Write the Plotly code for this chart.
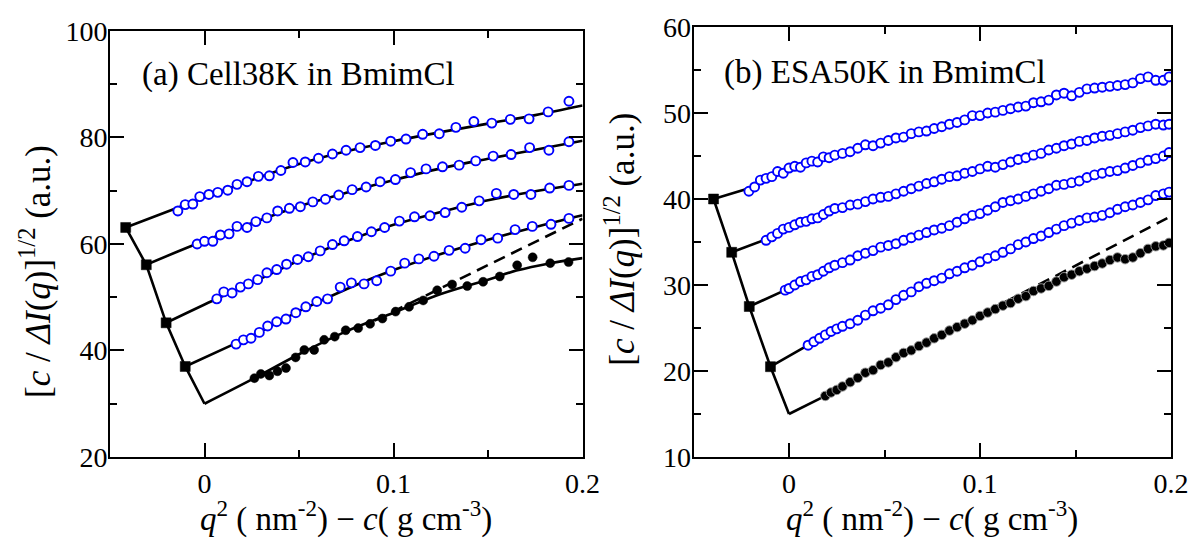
import plotly.graph_objects as go

# ---------------- Panel (a): Cell38K in BmimCl ----------------
a_s1_x = [-0.0141, -0.0102, -0.0062, -0.0025, 0.0023, 0.0070, 0.0123, 0.0172, 0.0225, 0.0285, 0.0343, 0.0404, 0.0468, 0.0533, 0.0603, 0.0677, 0.0749, 0.0823, 0.0904, 0.0985, 0.1066, 0.1154, 0.1242, 0.1330, 0.1425, 0.1520, 0.1618, 0.1717, 0.1818, 0.1928]
a_s1_y = [66.2, 67.4, 67.5, 68.9, 69.3, 69.7, 70.1, 71.2, 71.7, 72.7, 72.8, 73.8, 75.3, 75.4, 76.1, 76.9, 77.6, 78.1, 78.5, 79.3, 79.7, 80.6, 80.7, 81.9, 83.0, 82.7, 83.4, 83.5, 84.8, 86.8]

a_s2_x = [-0.0039, 0.0000, 0.0044, 0.0084, 0.0130, 0.0172, 0.0225, 0.0272, 0.0330, 0.0387, 0.0449, 0.0507, 0.0573, 0.0640, 0.0710, 0.0781, 0.0855, 0.0929, 0.1010, 0.1090, 0.1172, 0.1259, 0.1347, 0.1435, 0.1527, 0.1622, 0.1720, 0.1822, 0.1928]
a_s2_y = [60.0, 60.5, 60.5, 61.7, 61.9, 63.3, 63.1, 64.2, 64.9, 66.2, 66.7, 67.0, 67.9, 68.4, 69.2, 70.2, 70.7, 71.7, 72.1, 73.4, 74.1, 74.5, 74.8, 75.6, 76.5, 76.8, 78.1, 77.6, 79.2]

a_s3_x = [0.0065, 0.0102, 0.0146, 0.0190, 0.0232, 0.0281, 0.0330, 0.0382, 0.0434, 0.0492, 0.0549, 0.0612, 0.0677, 0.0739, 0.0809, 0.0883, 0.0953, 0.1031, 0.1111, 0.1193, 0.1273, 0.1361, 0.1453, 0.1544, 0.1636, 0.1727, 0.1826, 0.1928]
a_s3_y = [49.7, 51.0, 50.8, 51.9, 52.5, 53.3, 54.6, 55.2, 56.2, 57.1, 57.6, 58.7, 59.9, 60.6, 61.4, 62.3, 63.1, 64.3, 65.1, 65.3, 65.9, 66.9, 68.1, 69.5, 69.3, 69.3, 70.5, 71.0]

a_s4_x = [0.0167, 0.0206, 0.0246, 0.0290, 0.0334, 0.0382, 0.0431, 0.0483, 0.0536, 0.0594, 0.0651, 0.0718, 0.0777, 0.0844, 0.0911, 0.0985, 0.1059, 0.1134, 0.1214, 0.1294, 0.1379, 0.1463, 0.1551, 0.1643, 0.1734, 0.1833, 0.1928]
a_s4_y = [41.2, 42.0, 42.3, 43.4, 44.6, 45.4, 45.9, 47.1, 48.2, 49.2, 49.7, 51.9, 52.7, 52.5, 53.1, 54.9, 56.4, 57.2, 57.7, 58.8, 59.2, 60.8, 61.1, 62.7, 63.3, 63.7, 64.8]

a_s0_x = [0.0264, 0.0298, 0.0343, 0.0386, 0.0431, 0.0482, 0.0528, 0.0580, 0.0633, 0.0689, 0.0747, 0.0813, 0.0876, 0.0941, 0.1011, 0.1082, 0.1157, 0.1231, 0.1310, 0.1390, 0.1474, 0.1562, 0.1654, 0.1736, 0.1829, 0.1926]
a_s0_y = [34.8, 35.6, 35.3, 36.1, 36.7, 38.7, 40.1, 40.1, 42.0, 42.6, 43.8, 44.2, 45.0, 46.0, 47.3, 48.2, 49.4, 51.3, 52.4, 52.1, 52.9, 53.9, 56.0, 57.5, 56.4, 56.6]

# fitted curves
a_fit1_x = [-0.0417, -0.015, 0.0, 0.025, 0.05, 0.075, 0.1, 0.125, 0.15, 0.175, 0.2]
a_fit1_y = [63.1, 66.7, 68.7, 72.0, 75.0, 77.4, 79.3, 81.0, 82.6, 84.2, 86.0]
a_fit2_x = [-0.0308, -0.005, 0.025, 0.05, 0.075, 0.1, 0.125, 0.15, 0.175, 0.2]
a_fit2_y = [56.1, 59.9, 63.9, 67.1, 69.6, 72.0, 74.2, 76.0, 77.7, 79.4]
a_fit3_x = [-0.0203, 0.004, 0.025, 0.05, 0.075, 0.1, 0.125, 0.15, 0.175, 0.2]
a_fit3_y = [45.2, 49.3, 52.7, 56.9, 60.5, 63.6, 66.0, 68.2, 69.9, 71.3]
a_fit4_x = [-0.0102, 0.015, 0.025, 0.05, 0.075, 0.1, 0.125, 0.15, 0.175, 0.2]
a_fit4_y = [37.0, 41.1, 42.7, 47.4, 51.5, 55.1, 58.1, 60.8, 63.2, 65.4]
a_fit0_x = [0.0, 0.0264, 0.05, 0.075, 0.1, 0.125, 0.15, 0.165, 0.183, 0.2]
a_fit0_y = [30.0, 34.8, 39.3, 43.6, 47.1, 50.6, 53.3, 55.0, 56.4, 57.35]
a_chain_x = [0.0, -0.0102, -0.0203, -0.0308, -0.0417]
a_chain_y = [30.0, 37.0, 45.2, 56.1, 63.1]
a_sq_x = [-0.0102, -0.0203, -0.0308, -0.0417]
a_sq_y = [37.0, 45.2, 56.1, 63.1]
a_dash_x = [0.09, 0.2]
a_dash_y = [45.6, 64.75]

# ---------------- Panel (b): ESA50K in BmimCl ----------------
grid_hi = [0.028, 0.032, 0.036, 0.040, 0.044, 0.048, 0.052, 0.056, 0.060, 0.064, 0.068, 0.072, 0.076, 0.080, 0.084, 0.088, 0.092, 0.096, 0.100, 0.104, 0.108, 0.112, 0.116, 0.120, 0.124, 0.128, 0.132, 0.136, 0.140, 0.144, 0.148, 0.152, 0.156, 0.160, 0.164, 0.168, 0.172, 0.176, 0.180, 0.184, 0.188, 0.192, 0.196, 0.199]

b_s1_x = [-0.021, -0.018, -0.015, -0.012, -0.009, -0.006, -0.003, 0.000, 0.003, 0.006, 0.009, 0.012, 0.015, 0.018, 0.021, 0.024] + grid_hi
b_s1_y = [40.9, 41.4, 42.2, 42.4, 42.6, 43.2, 43.0, 43.6, 43.8, 43.7, 44.2, 44.4, 44.3, 44.9, 44.8, 45.1,
          45.3, 45.5, 45.9, 46.3, 46.2, 46.5, 46.8, 47.1, 47.2, 47.6, 47.8, 47.9, 48.2, 48.4, 48.7, 48.9, 49.2, 49.7, 49.7, 50.0, 50.1, 50.3, 50.5, 50.7, 50.8, 51.2, 51.3, 51.5, 52.1, 52.3, 52.0, 52.4, 52.8, 52.9, 53.0, 53.1, 53.2, 53.3, 53.5, 54.0, 54.2, 53.8, 53.8, 54.2]

b_s2_x = [-0.012, -0.009, -0.006, -0.003, 0.000, 0.003, 0.006, 0.009, 0.012, 0.015, 0.018, 0.021, 0.024] + grid_hi
b_s2_y = [35.2, 35.6, 36.0, 36.5, 36.7, 37.0, 37.3, 37.4, 37.7, 37.8, 38.2, 38.6, 38.9,
          39.0, 39.3, 39.4, 39.7, 40.0, 40.2, 40.3, 40.6, 40.9, 41.2, 41.5, 41.8, 42.0, 42.3, 42.6, 42.7, 43.0, 43.2, 43.5, 43.8, 43.7, 44.0, 44.3, 44.6, 44.8, 45.1, 45.3, 45.7, 45.9, 46.2, 46.4, 46.7, 46.8, 47.1, 47.3, 47.4, 47.6, 47.8, 48.0, 48.3, 48.5, 48.7, 48.6, 48.7]

b_s3_x = [-0.002, 0.000, 0.003, 0.006, 0.009, 0.012, 0.015, 0.018, 0.021, 0.024] + grid_hi
b_s3_y = [29.4, 29.6, 30.0, 30.4, 30.6, 31.0, 31.2, 31.6, 32.0, 32.3,
          32.6, 32.9, 33.4, 33.7, 34.0, 34.4, 34.6, 34.8, 35.2, 35.5, 35.8, 36.1, 36.4, 36.6, 36.9, 37.3, 37.7, 38.1, 38.3, 38.7, 39.1, 39.6, 39.8, 40.0, 40.3, 40.6, 40.9, 41.2, 41.6, 41.7, 41.9, 42.1, 42.5, 42.8, 43.0, 43.2, 43.3, 43.6, 43.9, 44.2, 44.5, 44.7, 45.0, 45.4]

b_s4_x = [0.010, 0.013, 0.016, 0.019, 0.022, 0.025] + grid_hi
b_s4_y = [23.0, 23.4, 23.8, 24.2, 24.6, 24.9,
          25.2, 25.5, 25.9, 26.5, 27.0, 27.3, 27.7, 28.3, 28.8, 29.2, 29.8, 30.2, 30.5, 30.8, 31.3, 31.6, 32.0, 32.3, 32.7, 33.1, 33.4, 33.8, 34.2, 34.7, 35.0, 35.4, 35.7, 36.1, 36.5, 36.9, 37.2, 37.5, 37.8, 37.9, 38.1, 38.4, 38.8, 39.1, 39.3, 39.6, 39.9, 40.4, 40.6, 40.8]

b_s0_x = [0.019, 0.022, 0.025] + grid_hi
b_s0_y = [17.1, 17.5, 17.8,
          18.2, 18.7, 19.2, 19.8, 20.1, 20.7, 21.0, 21.6, 22.1, 22.4, 22.9, 23.3, 23.8, 24.2, 24.7, 25.1, 25.5, 25.9, 26.4, 26.8, 27.2, 27.6, 27.9, 28.4, 28.7, 29.3, 29.6, 29.9, 30.4, 30.9, 31.2, 31.6, 31.9, 32.2, 32.5, 32.9, 33.2, 33.0, 33.2, 33.7, 34.2, 34.5, 34.6, 34.9]

b_seg_x = [[-0.0395, -0.020], [-0.030, -0.012], [-0.0208, -0.002], [-0.0097, 0.010], [0.0, 0.019]]
b_seg_y = [[40.0, 41.3], [33.8, 35.3], [27.5, 29.4], [20.5, 23.0], [15.0, 17.1]]
b_chain_x = [0.0, -0.0097, -0.0208, -0.030, -0.0395]
b_chain_y = [15.0, 20.5, 27.5, 33.8, 40.0]
b_sq_x = [-0.0097, -0.0208, -0.030, -0.0395]
b_sq_y = [20.5, 27.5, 33.8, 40.0]
b_dash_x = [0.06, 0.2]
b_dash_y = [21.9, 38.0]

x_tickvals = [0, 0.1, 0.2]
x_ticktext = ["0", "0.1", "0.2"]
a_yticks = [20, 40, 60, 80, 100]
b_yticks = [10, 20, 30, 40, 50, 60]

BLUE = "#0000ff"
FONT = '"Liberation Serif", "Times New Roman", Times, serif'
LW = 2.6

fig = go.Figure()

def line(x, y, xa, ya, dash=None, shape="linear"):
    fig.add_trace(go.Scatter(x=x, y=y, mode="lines", xaxis=xa, yaxis=ya,
                             line=dict(color="black", width=LW, dash=dash, shape=shape),
                             showlegend=False, hoverinfo="skip"))

# ---- panel (a) lines
line(a_dash_x, a_dash_y, "x", "y", dash="12px,7px")
for fx, fy in [(a_fit1_x, a_fit1_y), (a_fit2_x, a_fit2_y), (a_fit3_x, a_fit3_y),
               (a_fit4_x, a_fit4_y), (a_fit0_x, a_fit0_y)]:
    line(fx, fy, "x", "y", shape="spline")
line(a_chain_x, a_chain_y, "x", "y")

# ---- panel (b) lines
line(b_dash_x, b_dash_y, "x2", "y2", dash="12px,7px")
for sx, sy in zip(b_seg_x, b_seg_y):
    line(sx, sy, "x2", "y2")
line(b_chain_x, b_chain_y, "x2", "y2")

def markers(x, y, xa, ya, kind, size):
    if kind == "open":
        m = dict(symbol="circle", size=size, color="white", line=dict(color=BLUE, width=1.9))
    elif kind == "fillb":
        m = dict(symbol="circle", size=size, color="black", line=dict(color="#9a9a9a", width=0.9))
    elif kind == "fill":
        m = dict(symbol="circle", size=size, color="black", line=dict(color="black", width=0.5))
    else:
        m = dict(symbol="square", size=size, color="black", line=dict(color="black", width=0.5))
    fig.add_trace(go.Scatter(x=x, y=y, mode="markers", xaxis=xa, yaxis=ya, marker=m,
                             showlegend=False, hoverinfo="skip"))

for sx, sy in [(a_s1_x, a_s1_y), (a_s2_x, a_s2_y), (a_s3_x, a_s3_y), (a_s4_x, a_s4_y)]:
    markers(sx, sy, "x", "y", "open", 9)
markers(a_s0_x, a_s0_y, "x", "y", "fill", 9)
markers(a_sq_x, a_sq_y, "x", "y", "square", 10)

for sx, sy in [(b_s1_x, b_s1_y), (b_s2_x, b_s2_y), (b_s3_x, b_s3_y), (b_s4_x, b_s4_y)]:
    markers(sx, sy, "x2", "y2", "open", 9)
markers(b_s0_x, b_s0_y, "x2", "y2", "fillb", 9.5)
markers(b_sq_x, b_sq_y, "x2", "y2", "square", 10)

tickfont = dict(family=FONT, size=28, color="black")

def xaxis(domain, anchor):
    return dict(domain=domain, anchor=anchor, range=[-0.05, 0.2], tickvals=x_tickvals,
                ticktext=x_ticktext, ticks="inside", ticklen=14, tickwidth=2, tickcolor="black",
                minor=dict(tickvals=[0.05, 0.15], ticks="inside", ticklen=7, tickwidth=2, tickcolor="black"),
                showline=True, linewidth=2, linecolor="black", mirror="ticks",
                showgrid=False, zeroline=False, tickfont=tickfont)

def yaxis(domain, anchor, rng, tv, minor_dtick):
    return dict(domain=domain, anchor=anchor, range=rng, tickvals=tv,
                ticks="inside", ticklen=14, tickwidth=2, tickcolor="black",
                minor=dict(dtick=minor_dtick, ticks="inside", ticklen=7, tickwidth=2, tickcolor="black"),
                showline=True, linewidth=2, linecolor="black", mirror="ticks",
                ticklabelstandoff=-5,
                showgrid=False, zeroline=False, tickfont=tickfont)

W, H = 1201, 538
L, R, T, B = 110, 20, 24, 81
pw, ph = W - L - R, H - T - B

def px(xp):
    return (xp - L) / pw

def py(yp):
    return (H - B - yp) / ph

fig.update_layout(
    width=W, height=H, margin=dict(l=L, r=R, t=T, b=B),
    plot_bgcolor="white", paper_bgcolor="white",
    xaxis=xaxis([0, px(587)], "y"),
    xaxis2=xaxis([px(699), 1], "y2"),
    yaxis=yaxis([0, py(28)], "x", [20, 100], a_yticks, 10),
    yaxis2=yaxis([0, 1], "x2", [10, 60], b_yticks, 5),
    font=dict(family=FONT, color="black"),
)

ytitle = "[<i>c</i> / <i>ΔI</i>(<i>q</i>)]<sup>1/2</sup> (a.u.)"
xtitle = "<i>q</i><sup>2</sup> ( nm<sup>-2</sup>) − <i>c</i>( g cm<sup>-3</sup>)"
ann = [
    dict(text="(a) Cell38K in BmimCl", x=px(140), y=py(72), xanchor="left", yanchor="middle", font=dict(size=33)),
    dict(text="(b) ESA50K in BmimCl", x=px(728), y=py(70), xanchor="left", yanchor="middle", font=dict(size=33)),
    dict(text=ytitle, x=px(35), y=py(270), textangle=-90, xanchor="center", yanchor="middle", font=dict(size=35)),
    dict(text=ytitle, x=px(625), y=py(238), textangle=-90, xanchor="center", yanchor="middle", font=dict(size=35)),
    dict(text=xtitle, x=px(348.5), y=py(517), xanchor="center", yanchor="middle", font=dict(size=33)),
    dict(text=xtitle, x=px(940), y=py(517), xanchor="center", yanchor="middle", font=dict(size=33)),
]
for a in ann:
    a.update(xref="paper", yref="paper", showarrow=False)
    a["font"].update(family=FONT, color="black")
fig.update_layout(annotations=ann)

fig.write_html("out.html", config={"displayModeBar": False},
               post_script="document.body.style.margin='0';document.body.style.overflow='hidden';")
